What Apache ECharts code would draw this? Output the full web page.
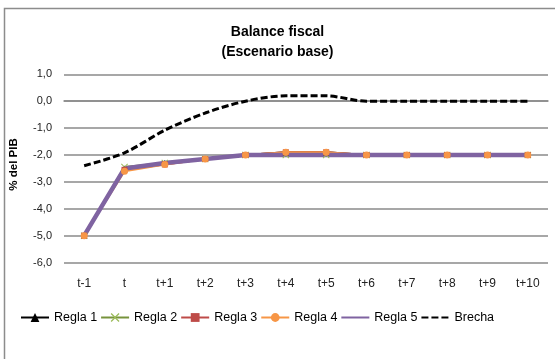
<!DOCTYPE html>
<html>
<head>
<meta charset="utf-8">
<script src="https://cdn.jsdelivr.net/npm/echarts@6/dist/echarts.min.js"></script>
<style>
  html, body { margin: 0; padding: 0; background: #fff; }
  #chart { width: 555px; height: 359px; }
</style>
</head>
<body>
<div id="chart"></div>
<script>
// Fiscal balance paths (% of GDP) under each rule, base scenario
const categories = ['t-1', 't', 't+1', 't+2', 't+3', 't+4', 't+5', 't+6', 't+7', 't+8', 't+9', 't+10'];
const regla1 = [-5.0, -2.5, -2.3, -2.15, -2.0, -1.9, -1.9, -2.0, -2.0, -2.0, -2.0, -2.0];
const regla2 = [-5.0, -2.45, -2.3, -2.15, -2.0, -2.0, -2.0, -2.0, -2.0, -2.0, -2.0, -2.0];
const regla3 = [-5.0, -2.55, -2.35, -2.15, -2.0, -1.9, -1.9, -2.0, -2.0, -2.0, -2.0, -2.0];
const regla4 = [-5.0, -2.6, -2.35, -2.15, -2.0, -1.9, -1.9, -2.0, -2.0, -2.0, -2.0, -2.0];
const regla5 = [-5.0, -2.5, -2.3, -2.15, -2.0, -2.0, -2.0, -2.0, -2.0, -2.0, -2.0, -2.0];
const brecha = [-2.4, -1.92, -1.08, -0.44, 0.0, 0.2, 0.2, 0.0, 0.0, 0.0, 0.0, 0.0];
const yTicks = { min: -6, max: 1, step: 1 };

const FONT = '"Liberation Sans", Arial, sans-serif';
const X_SYMBOL = 'path://M0,1L1,0L5,4L9,0L10,1L6,5L10,9L9,10L5,6L1,10L0,9L4,5Z';

const chart = echarts.init(document.getElementById('chart'), null, { renderer: 'canvas' });

function lineSeries(name, data, color, width, symbol, symbolColor, symbolSize) {
  return {
    name, type: 'line', data,
    symbol: symbol || 'none',
    symbolSize: symbolSize || 6,
    showSymbol: !!symbol,
    lineStyle: { color, width },
    // series without markers keep a transparent item colour so the legend shows only the line
    itemStyle: { color: symbol ? (symbolColor || color) : 'rgba(0,0,0,0)', borderWidth: 0 },
    emphasis: { disabled: true },
    animation: false
  };
}

chart.setOption({
  backgroundColor: '#fff',
  animation: false,
  textStyle: { fontFamily: FONT },
  title: {
    text: 'Balance fiscal\n(Escenario base)',
    left: 'center',
    top: 17,
    textStyle: { fontFamily: FONT, fontSize: 14, fontWeight: 'bold', color: '#000', lineHeight: 20 }
  },
  graphic: [{
    type: 'rect',
    shape: { x: 4.5, y: 8.5, width: 700, height: 500 },
    style: { fill: 'none', stroke: '#8c8c8c', lineWidth: 1.5 },
    silent: true, z: -1
  }],
  legend: {
    left: 15,
    top: 306,
    itemWidth: 28,
    itemHeight: 11,
    itemGap: 3,
    textStyle: { fontFamily: FONT, fontSize: 12.5, color: '#000' },
    data: ['Regla 1', 'Regla 2', 'Regla 3', 'Regla 4', 'Regla 5', 'Brecha']
  },
  grid: { left: 62, right: 7, top: 74.3, bottom: 96.4, containLabel: false },
  xAxis: {
    type: 'category',
    data: categories,
    boundaryGap: true,
    axisLine: { show: true, lineStyle: { color: '#8a8a8a', width: 1.5 } },
    axisTick: { show: false },
    axisLabel: { fontFamily: FONT, fontSize: 12, color: '#222', margin: 15 }
  },
  yAxis: {
    type: 'value',
    min: yTicks.min, max: yTicks.max, interval: yTicks.step,
    name: '% del PIB',
    nameLocation: 'middle',
    nameGap: 44,
    nameRotate: 90,
    nameTextStyle: { fontFamily: FONT, fontSize: 11.5, fontWeight: 'bold', color: '#000', padding: [0, 0, 0, 8] },
    axisLine: { show: false },
    axisTick: { show: false },
    splitLine: { lineStyle: { color: '#8a8a8a', width: 1.5 } },
    axisLabel: {
      fontFamily: FONT, fontSize: 11, color: '#222', margin: 12,
      formatter: v => v.toFixed(1).replace('.', ',')
    }
  },
  series: [
    lineSeries('Regla 1', regla1, '#000000', 2, 'triangle', '#000000', 6),
    lineSeries('Regla 2', regla2, '#77933C', 2, X_SYMBOL, '#9BBB59', 7),
    lineSeries('Regla 3', regla3, '#BE4B48', 2, 'rect', '#BE4B48', 6),
    lineSeries('Regla 4', regla4, '#F79646', 2, 'circle', '#F79646', 7),
    Object.assign(lineSeries('Regla 5', regla5, '#7F63A1', 4.5, null), { z: 3 }),
    Object.assign(lineSeries('Brecha', brecha, '#000000', 3, null), {
      smooth: 0.3,
      z: 3,
      lineStyle: { color: '#000', width: 3, type: [7, 3] }
    })
  ]
});
</script>
</body>
</html>
